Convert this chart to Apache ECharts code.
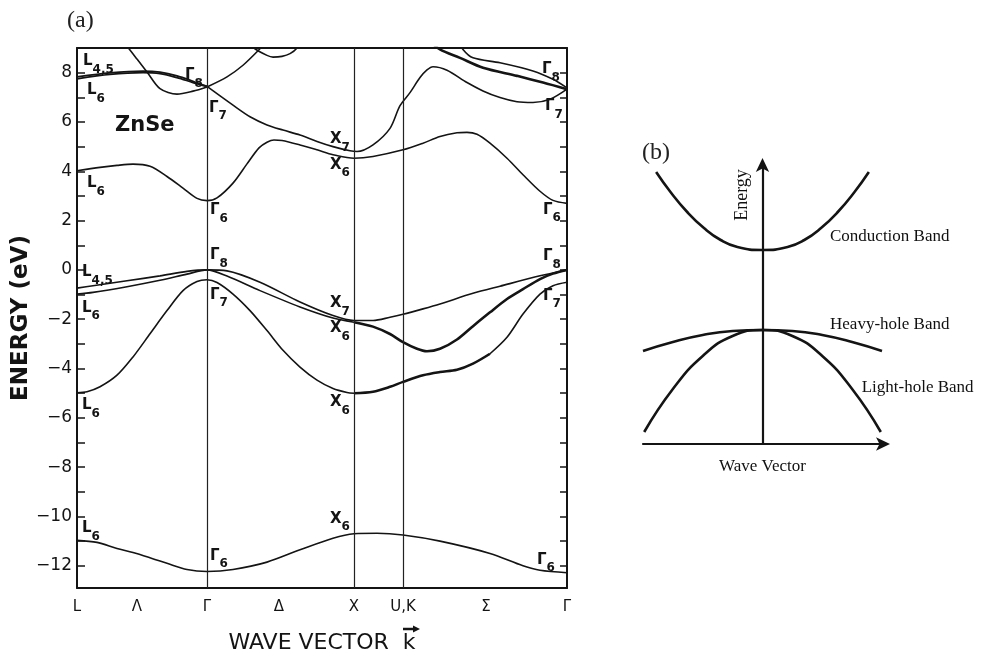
<!DOCTYPE html>
<html>
<head>
<meta charset="utf-8">
<script src="https://cdn.jsdelivr.net/npm/echarts@6/dist/echarts.min.js"></script>
<style>
  html, body { margin: 0; padding: 0; background: #ffffff; }
  #chart { width: 995px; height: 659px; }
</style>
</head>
<body>
<div id="chart"></div>
<script>
// ---------- (a) ZnSe band structure, k along L–Γ–X–U,K–Γ, energies in eV ----------
const symmetryPoints = [0, 1.30, 2.77, 3.26, 4.90];           // L, Γ, X, U/K, Γ
const kLabels   = ['L', 'Λ', 'Γ', 'Δ', 'X', 'U,K', 'Σ', 'Γ'];
const kLabelAt  = [0, 0.60, 1.30, 2.02, 2.77, 3.26, 4.09, 4.90];
const energyLabels = [-12, -10, -8, -6, -4, -2, 0, 2, 4, 6, 8];
const energyTicks  = [-12, -11, -10, -9, -8, -7, -6, -5, -4, -3, -2, -1, 0, 1, 2, 3, 4, 5, 6, 7, 8];

// deep Se-s valence band (L6 – Γ6 – X6 – Γ6)
const bandSe = [[0,-10.97],[0.2,-11.05],[0.4,-11.3],[0.56,-11.46],[0.75,-11.7],[0.9,-11.9],[1.1,-12.15],[1.3,-12.23],
  [1.56,-12.15],[1.9,-11.85],[2.23,-11.35],[2.56,-10.88],[2.77,-10.7],[3.0,-10.68],[3.26,-10.75],[3.63,-11.0],
  [4.13,-11.5],[4.46,-12.0],[4.63,-12.18],[4.9,-12.28]];

// lower valence band (L6 -5 – Γ7 – X6 -5 – Γ7)
const bandV1a = [[0,-4.98],[0.1,-4.94],[0.23,-4.74],[0.4,-4.27],[0.56,-3.53],[0.73,-2.59],[0.9,-1.65],[1.06,-0.84],
  [1.2,-0.47],[1.3,-0.4],[1.4,-0.51],[1.56,-0.98],[1.73,-1.65],[1.9,-2.46],[2.06,-3.26],[2.23,-3.94],[2.4,-4.47],
  [2.56,-4.81],[2.7,-4.97],[2.77,-5.0]];
const bandV1b = [[2.77,-5.0],[2.96,-4.94],[3.13,-4.74],[3.26,-4.54],[3.46,-4.27],[3.63,-4.14],[3.8,-4.05],[3.96,-3.8],[4.13,-3.4]];
const bandV1c = [[4.13,-3.4],[4.3,-2.73],[4.46,-1.79],[4.63,-0.98],[4.76,-0.64],[4.9,-0.5]];

// top valence bands (Γ8)
const bandV2 = [[0,-0.74],[0.16,-0.64],[0.5,-0.44],[0.83,-0.24],[1.1,-0.06],[1.3,0],[1.5,-0.04],[1.83,-0.5],
  [2.23,-1.3],[2.56,-1.85],[2.77,-2.05],[2.96,-2.05],[3.13,-1.92],[3.26,-1.8],[3.46,-1.58],[3.63,-1.38],
  [3.96,-0.95],[4.23,-0.66],[4.63,-0.24],[4.9,0]];
const bandV3a = [[0,-0.98],[0.16,-0.91],[0.5,-0.68],[0.83,-0.42],[1.1,-0.17],[1.3,0],[1.5,-0.25],[1.83,-0.84],
  [2.23,-1.5],[2.56,-1.95],[2.77,-2.12]];
const bandV3b = [[2.77,-2.12],[2.96,-2.3],[3.13,-2.6],[3.26,-2.93],[3.4,-3.2],[3.5,-3.3],[3.63,-3.2],[3.8,-2.82],
  [3.96,-2.28],[4.13,-1.72],[4.3,-1.18],[4.46,-0.78],[4.63,-0.37],[4.76,-0.15],[4.9,0]];

// lowest conduction band (L6 – Γ6 – X6 – Γ6)
const bandC1 = [[0,4.02],[0.23,4.16],[0.4,4.24],[0.56,4.29],[0.73,4.2],[0.9,3.79],[1.06,3.32],[1.2,2.9],[1.3,2.81],
  [1.4,2.92],[1.56,3.52],[1.7,4.3],[1.82,4.95],[1.9,5.18],[1.97,5.27],[2.05,5.25],[2.23,5.07],[2.4,4.87],[2.56,4.67],
  [2.7,4.56],[2.77,4.53],[2.96,4.6],[3.26,4.87],[3.46,5.14],[3.63,5.41],[3.8,5.56],[3.9,5.58],[4.0,5.5],[4.13,5.14],
  [4.3,4.53],[4.46,3.86],[4.63,3.19],[4.76,2.82],[4.9,2.7]];

// second conduction band (Γ7 – X7 – Γ7)
const bandC2 = [[1.3,7.44],[1.56,6.68],[1.73,6.21],[1.9,5.88],[2.06,5.67],[2.23,5.47],[2.4,5.21],[2.56,5.0],[2.73,4.83],
  [2.8,4.8],[2.96,5.07],[3.13,5.74],[3.23,6.66],[3.33,7.19],[3.43,7.8],[3.5,8.11],[3.56,8.24],[3.7,8.1],[3.9,7.6],
  [4.06,7.26],[4.23,6.99],[4.4,6.82],[4.56,6.79],[4.73,6.92],[4.9,7.33]];

// higher conduction bands
const bandC3a = [[0,7.83],[0.33,7.99],[0.66,8.06],[0.83,8.02],[1.0,7.87],[1.16,7.65],[1.3,7.44]];
const bandC3b = [[0,7.75],[0.33,7.93],[0.66,8.0],[0.83,7.96],[1.0,7.8],[1.16,7.6],[1.3,7.44]];
const bandC4 = [[0.45,9.4],[0.51,9.03],[0.6,8.55],[0.7,8.03],[0.83,7.35],[1.0,7.13],[1.16,7.25],[1.3,7.42]];
const bandC5 = [[1.3,7.42],[1.5,7.83],[1.66,8.3],[1.83,8.97],[1.9,9.3]];
const bandC6 = [[1.72,9.3],[1.76,9.03],[1.9,8.7],[1.96,8.63],[2.05,8.66],[2.13,8.77],[2.2,9.0],[2.23,9.3]];
const bandC7 = [[3.5,9.4],[3.63,8.94],[3.83,8.6],[4.06,8.2],[4.4,7.87],[4.66,7.6],[4.9,7.33]];
const bandC8 = [[3.82,9.3],[3.86,8.94],[3.96,8.6],[4.23,8.4],[4.56,8.07],[4.76,7.73],[4.9,7.38]];

// ---------- (b) schematic bands near k = 0 ----------
const conductionBand = [[-0.89,2.72],[-0.77,2.52],[-0.63,2.32],[-0.49,2.16],[-0.35,2.04],[-0.21,1.97],[0,1.94],
  [0.21,1.97],[0.35,2.04],[0.49,2.16],[0.63,2.32],[0.77,2.52],[0.89,2.72]];
const heavyHoleBand = [[-1.0,0.93],[-0.75,1.02],[-0.5,1.09],[-0.25,1.13],[0,1.14],[0.25,1.13],[0.5,1.09],[0.75,1.02],[1.0,0.93]];
const lightHoleBand = [[-0.99,0.12],[-0.75,0.55],[-0.5,0.88],[-0.25,1.08],[0,1.14],[0.25,1.08],[0.5,0.88],[0.75,0.55],[0.99,0.12]];

// state labels: [k, E, symbol, subscript]
const stateLabels = [
  [0.06, 8.32, 'L', '4,5'], [0.10, 7.15, 'L', '6'], [1.08, 7.76, 'Γ', '8'], [1.32, 6.43, 'Γ', '7'],
  [2.53, 5.17, 'X', '7'], [2.53, 4.12, 'X', '6'], [0.10, 3.36, 'L', '6'], [1.33, 2.27, 'Γ', '6'],
  [1.33, 0.46, 'Γ', '8'], [0.05, -0.23, 'L', '4,5'], [0.05, -1.68, 'L', '6'], [1.33, -1.15, 'Γ', '7'],
  [2.53, -1.48, 'X', '7'], [2.53, -2.52, 'X', '6'], [0.05, -5.63, 'L', '6'], [2.53, -5.51, 'X', '6'],
  [0.05, -10.63, 'L', '6'], [2.53, -10.23, 'X', '6'], [1.33, -11.73, 'Γ', '6'],
  [4.65, 7.99, 'Γ', '8'], [4.68, 6.51, 'Γ', '7'], [4.66, 2.30, 'Γ', '6'], [4.66, 0.42, 'Γ', '8'],
  [4.66, -1.19, 'Γ', '7'], [4.60, -11.9, 'Γ', '6']
];
const schematicLabels = [
  [0.565, 2.07, 'Conduction Band'], [0.565, 1.19, 'Heavy-hole Band'], [0.83, 0.56, 'Light-hole Band']
];

const INK = '#141414';
const SANS = '"DejaVu Sans", sans-serif';
const SERIF = '"Liberation Serif", "Times New Roman", serif';

function bandSeries(data, width) {
  return {
    type: 'line', xAxisIndex: 0, yAxisIndex: 0, data: data,
    showSymbol: false, symbol: 'none', smooth: 0.3, clip: true, silent: true,
    lineStyle: { color: INK, width: width || 1.6 }
  };
}
function schematicSeries(data) {
  return {
    type: 'line', xAxisIndex: 2, yAxisIndex: 2, data: data,
    showSymbol: false, symbol: 'none', smooth: true, clip: false, silent: true,
    lineStyle: { color: INK, width: 2.6 }
  };
}
// text-only series: invisible points carrying a label
function textSeries(axisIndex, data, label) {
  return {
    type: 'scatter', xAxisIndex: axisIndex, yAxisIndex: axisIndex, symbolSize: 0, silent: true,
    itemStyle: { opacity: 1 }, data: data,
    label: Object.assign({ show: true, position: 'inside', opacity: 1 }, label)
  };
}

const series = [
  Object.assign(bandSeries(bandSe), {
    markLine: {
      silent: true, symbol: 'none', label: { show: false },
      lineStyle: { color: '#222', width: 1.2, type: 'solid' },
      data: symmetryPoints.slice(1, 4).map(k => ({ xAxis: k }))
    }
  }),
  bandSeries(bandV1a), bandSeries(bandV1b, 2.6), bandSeries(bandV1c),
  bandSeries(bandV2), bandSeries(bandV3a), bandSeries(bandV3b, 2.6),
  bandSeries(bandC1), bandSeries(bandC2),
  bandSeries(bandC3a, 1.8), bandSeries(bandC3b, 1.8),
  bandSeries(bandC4), bandSeries(bandC5), bandSeries(bandC6), bandSeries(bandC7, 2.6), bandSeries(bandC8),
  textSeries(0, stateLabels.map(d => ({ value: [d[0], d[1]], sym: d[2], sub: d[3] })), {
    align: 'left', verticalAlign: 'middle',
    formatter: p => '{m|' + p.data.sym + '}{s|' + p.data.sub + '}',
    rich: {
      m: { fontFamily: SANS, fontSize: 15, fontWeight: 'bold', color: INK, lineHeight: 22, verticalAlign: 'top' },
      s: { fontFamily: SANS, fontSize: 12, fontWeight: 'bold', color: INK, lineHeight: 22, verticalAlign: 'bottom' }
    }
  }),
  textSeries(0, [[0.38, 5.86]], {
    align: 'left', verticalAlign: 'middle', formatter: 'ZnSe',
    fontFamily: SANS, fontSize: 21, fontWeight: 'bold', color: INK
  }),
  schematicSeries(conductionBand), schematicSeries(heavyHoleBand), schematicSeries(lightHoleBand),
  textSeries(2, schematicLabels.map(d => ({ value: [d[0], d[1]], name: d[2] })), {
    align: 'left', verticalAlign: 'middle', formatter: p => p.name,
    fontFamily: SERIF, fontSize: 17, color: '#111'
  }),
  textSeries(2, [[-0.17, 2.49]], {
    rotate: 90, formatter: 'Energy', fontFamily: SERIF, fontSize: 18, color: '#111'
  })
];

const frameLine = { show: true, onZero: false, lineStyle: { color: INK, width: 2 } };

const option = {
  animation: false,
  backgroundColor: '#ffffff',
  grid: [
    { left: 77, top: 48, width: 490, height: 544 },
    { left: 643, top: 165, width: 239, height: 279 }
  ],
  xAxis: [
    {
      gridIndex: 0, type: 'value', position: 'bottom', min: 0, max: 4.9,
      axisLine: frameLine, axisTick: { show: false }, splitLine: { show: false },
      axisLabel: {
        customValues: kLabelAt, margin: 12, color: INK, fontFamily: SANS, fontSize: 15,
        formatter: v => {
          let best = 0;
          kLabelAt.forEach((p, i) => { if (Math.abs(p - v) < Math.abs(kLabelAt[best] - v)) best = i; });
          return kLabels[best];
        }
      },
      name: 'WAVE VECTOR  k', nameLocation: 'middle', nameGap: 44,
      nameTextStyle: { fontFamily: SANS, fontSize: 22, color: INK }
    },
    {
      gridIndex: 0, type: 'value', position: 'top', min: 0, max: 4.9,
      axisLine: frameLine, axisTick: { show: false }, axisLabel: { show: false }, splitLine: { show: false }
    },
    {
      gridIndex: 1, type: 'value', min: -1, max: 1,
      axisLine: { show: true, onZero: true, symbol: ['none', 'arrow'], symbolSize: [10, 14], symbolOffset: [0, 8],
        lineStyle: { color: INK, width: 2.2 } },
      axisTick: { show: false }, axisLabel: { show: false }, splitLine: { show: false },
      name: 'Wave Vector', nameLocation: 'middle', nameGap: 14,
      nameTextStyle: { fontFamily: SERIF, fontSize: 17, color: '#111' }
    }
  ],
  yAxis: [
    {
      gridIndex: 0, type: 'value', position: 'left', min: -12.9, max: 9.0,
      axisLine: frameLine,
      axisTick: { show: true, inside: true, length: 8, customValues: energyTicks, lineStyle: { color: INK, width: 1.5 } },
      axisLabel: { customValues: energyLabels, margin: 5, color: INK, fontFamily: SANS, fontSize: 17,
        formatter: v => String(v).replace('-', '\u2212') },
      splitLine: { show: false },
      name: 'ENERGY (eV)', nameLocation: 'middle', nameGap: 30,
      nameTextStyle: { fontFamily: SANS, fontSize: 23, fontWeight: 'bold', color: INK }
    },
    {
      gridIndex: 0, type: 'value', position: 'right', min: -12.9, max: 9.0,
      axisLine: frameLine,
      axisTick: { show: true, inside: true, length: 7, customValues: energyTicks, lineStyle: { color: INK, width: 1.5 } },
      axisLabel: { show: false }, splitLine: { show: false }
    },
    {
      gridIndex: 1, type: 'value', min: 0, max: 2.79,
      axisLine: { show: true, onZero: true, symbol: ['none', 'arrow'], symbolSize: [10, 14], symbolOffset: [0, 7],
        lineStyle: { color: INK, width: 2.2 } },
      axisTick: { show: false }, axisLabel: { show: false }, splitLine: { show: false }
    }
  ],
  graphic: [
    { type: 'text', left: 67, top: 9, style: { text: '(a)', font: '24px ' + SERIF, fill: '#222' } },
    { type: 'text', left: 642, top: 141, style: { text: '(b)', font: '24px ' + SERIF, fill: '#222' } },
    // vector arrow over the k of the axis title
    { type: 'line', shape: { x1: 403, y1: 629, x2: 414, y2: 629 }, style: { stroke: INK, lineWidth: 2.5 } },
    { type: 'polygon', shape: { points: [[413, 625.5], [420, 629], [413, 632.5]] }, style: { fill: INK } }
  ],
  series: series
};

const chart = echarts.init(document.getElementById('chart'), null, { renderer: 'canvas' });
chart.setOption(option);
</script>
</body>
</html>
